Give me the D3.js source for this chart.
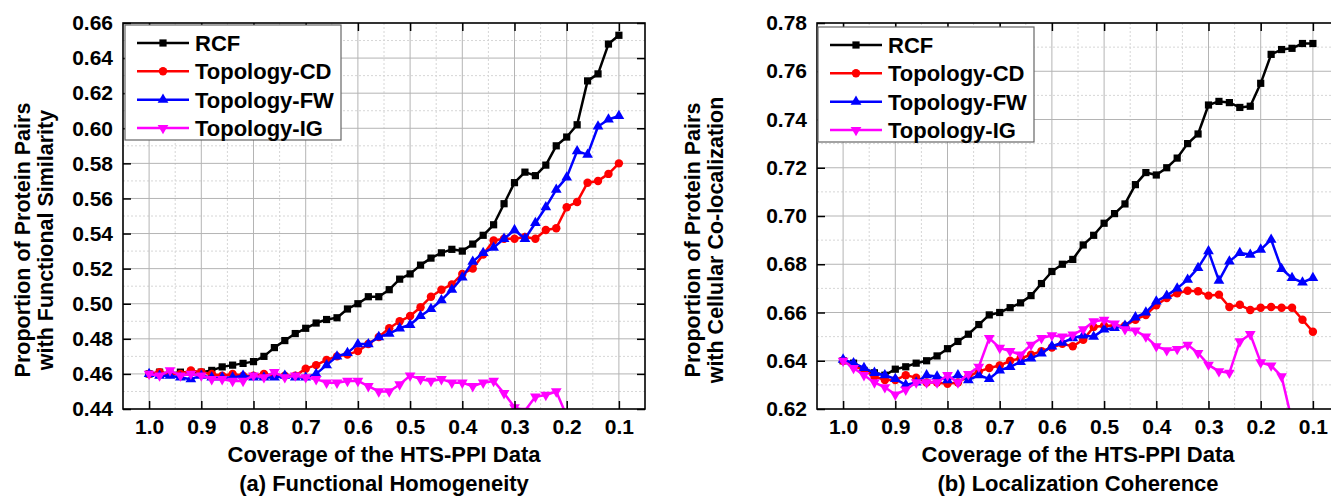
<!DOCTYPE html>
<html>
<head>
<meta charset="utf-8">
<script src="https://cdn.jsdelivr.net/npm/d3@7"></script>
<style>
  body { margin: 0; background: #fff; }
  text { font-family: "Liberation Sans", Arial, sans-serif; font-weight: bold; }
</style>
</head>
<body>
<script>
// coverage of the HTS-PPI data (x values, shared by both panels)
var coverage = [1.00, 0.98, 0.96, 0.94, 0.92, 0.90, 0.88, 0.86, 0.84, 0.82,
                0.80, 0.78, 0.76, 0.74, 0.72, 0.70, 0.68, 0.66, 0.64, 0.62,
                0.60, 0.58, 0.56, 0.54, 0.52, 0.50, 0.48, 0.46, 0.44, 0.42,
                0.40, 0.38, 0.36, 0.34, 0.32, 0.30, 0.28, 0.26, 0.24, 0.22,
                0.20, 0.18, 0.16, 0.14, 0.12, 0.10];

var methods = ["RCF", "Topology-CD", "Topology-FW", "Topology-IG"];

// (a) functional homogeneity
var fhRCF = [0.460, 0.461, 0.460, 0.461, 0.461, 0.461, 0.462, 0.464, 0.465, 0.466,
             0.467, 0.470, 0.475, 0.479, 0.483, 0.486, 0.489, 0.491, 0.492, 0.497,
             0.500, 0.504, 0.504, 0.508, 0.514, 0.517, 0.522, 0.526, 0.529, 0.531,
             0.530, 0.534, 0.539, 0.545, 0.557, 0.569, 0.575, 0.573, 0.579, 0.590,
             0.595, 0.602, 0.627, 0.631, 0.648, 0.653];
var fhCD  = [0.460, 0.461, 0.460, 0.460, 0.462, 0.461, 0.460, 0.459, 0.460, 0.459,
             0.459, 0.460, 0.459, 0.459, 0.459, 0.463, 0.465, 0.468, 0.470, 0.471,
             0.473, 0.477, 0.481, 0.486, 0.490, 0.493, 0.498, 0.504, 0.508, 0.511,
             0.517, 0.520, 0.528, 0.536, 0.537, 0.537, 0.538, 0.537, 0.542, 0.543,
             0.555, 0.558, 0.569, 0.570, 0.574, 0.580];
var fhFW  = [0.460, 0.459, 0.459, 0.458, 0.457, 0.459, 0.458, 0.458, 0.458, 0.459,
             0.458, 0.458, 0.458, 0.459, 0.458, 0.458, 0.460, 0.465, 0.470, 0.472,
             0.477, 0.477, 0.481, 0.483, 0.486, 0.488, 0.493, 0.497, 0.502, 0.508,
             0.515, 0.524, 0.529, 0.532, 0.537, 0.542, 0.537, 0.546, 0.555, 0.565,
             0.572, 0.587, 0.585, 0.601, 0.605, 0.607];
var fhIG  = [0.460, 0.459, 0.462, 0.459, 0.460, 0.459, 0.457, 0.457, 0.456, 0.456,
             0.459, 0.458, 0.461, 0.458, 0.459, 0.458, 0.457, 0.455, 0.455, 0.456,
             0.456, 0.453, 0.450, 0.450, 0.454, 0.459, 0.457, 0.456, 0.457, 0.455,
             0.455, 0.453, 0.455, 0.456, 0.449, 0.441, 0.439, 0.447, 0.448, 0.450,
             0.436];

// (b) localization coherence
var lcRCF = [0.640, 0.639, 0.636, 0.635, 0.634, 0.6365, 0.6375, 0.639, 0.640, 0.642,
             0.645, 0.648, 0.651, 0.655, 0.659, 0.660, 0.662, 0.664, 0.667, 0.672,
             0.677, 0.680, 0.682, 0.688, 0.692, 0.697, 0.701, 0.705, 0.713, 0.718,
             0.717, 0.720, 0.724, 0.730, 0.734, 0.746, 0.7475, 0.747, 0.745, 0.7455,
             0.755, 0.767, 0.769, 0.7695, 0.7715, 0.7715];
var lcCD  = [0.640, 0.638, 0.636, 0.6335, 0.632, 0.632, 0.634, 0.633, 0.631, 0.631,
             0.6305, 0.631, 0.6335, 0.6355, 0.637, 0.638, 0.640, 0.641, 0.6425, 0.644,
             0.6455, 0.647, 0.646, 0.6487, 0.654, 0.6545, 0.6545, 0.6545, 0.657, 0.659,
             0.663, 0.666, 0.668, 0.669, 0.6688, 0.667, 0.6674, 0.6623, 0.6632, 0.661,
             0.662, 0.6623, 0.662, 0.662, 0.657, 0.652];
var lcFW  = [0.6405, 0.639, 0.637, 0.635, 0.634, 0.6325, 0.630, 0.631, 0.634, 0.6335,
             0.632, 0.634, 0.632, 0.634, 0.6325, 0.636, 0.6375, 0.6395, 0.641, 0.643,
             0.646, 0.6475, 0.6494, 0.6505, 0.650, 0.653, 0.6536, 0.6545, 0.658, 0.660,
             0.6646, 0.667, 0.670, 0.6736, 0.6785, 0.6854, 0.6732, 0.6812, 0.6847, 0.684,
             0.6861, 0.6902, 0.6781, 0.6743, 0.6725, 0.6743];
var lcIG  = [0.640, 0.637, 0.634, 0.631, 0.629, 0.626, 0.628, 0.631, 0.631, 0.631,
             0.634, 0.631, 0.6345, 0.6375, 0.6494, 0.6453, 0.644, 0.6425, 0.6466, 0.6494,
             0.6505, 0.650, 0.6508, 0.653, 0.6563, 0.657, 0.6554, 0.653, 0.6525, 0.650,
             0.646, 0.6443, 0.6448, 0.6466, 0.6432, 0.6383, 0.6356, 0.635, 0.648, 0.651,
             0.6393, 0.638, 0.6335, 0.615];

// tick labels
var xTicks = [1.0, 0.9, 0.8, 0.7, 0.6, 0.5, 0.4, 0.3, 0.2, 0.1];
var fhTicks = [0.44, 0.46, 0.48, 0.50, 0.52, 0.54, 0.56, 0.58, 0.60, 0.62, 0.64, 0.66];
var lcTicks = [0.62, 0.64, 0.66, 0.68, 0.70, 0.72, 0.74, 0.76, 0.78];

var colors = ["#000000", "#ff0000", "#0000ff", "#ff00ff"];
var symbols = [
  { type: d3.symbolSquare, size: 52, rot: 0 },
  { type: d3.symbolCircle, size: 56, rot: 0 },
  { type: d3.symbolTriangle, size: 50, rot: 0 },
  { type: d3.symbolTriangle, size: 50, rot: 180 }
];

var W = 1331, H = 498;
var top_ = 23, bottom = 409, plotW = 522;

var svg = d3.select("body").append("svg")
            .attr("width", W)
            .attr("height", H);

function mids(arr) {
  return d3.pairs(arr).map(function (p) { return (p[0] + p[1]) / 2; });
}

function drawPanel(p) {
  var x = d3.scaleLinear()
            .domain([1.05, 0.05])
            .range([p.left, p.left + plotW]);
  var y = d3.scaleLinear()
            .domain([p.yTicks[0], p.yTicks[p.yTicks.length - 1]])
            .range([bottom, top_]);

  var g = svg.append("g");

  g.append("clipPath").attr("id", p.id + "-clip")
    .append("rect")
    .attr("x", x.range()[0]).attr("y", top_)
    .attr("width", plotW).attr("height", bottom - top_);

  // grid: dotted minor, solid major
  g.selectAll(".vminor").data(mids(xTicks)).enter().append("line")
    .attr("x1", d => x(d)).attr("x2", d => x(d))
    .attr("y1", top_).attr("y2", bottom)
    .attr("stroke", "#d6d6d6").attr("stroke-dasharray", "2,2");
  g.selectAll(".hminor").data(mids(p.yTicks)).enter().append("line")
    .attr("x1", x.range()[0]).attr("x2", x.range()[1])
    .attr("y1", d => y(d)).attr("y2", d => y(d))
    .attr("stroke", "#d6d6d6").attr("stroke-dasharray", "2,2");
  g.selectAll(".vmajor").data(xTicks).enter().append("line")
    .attr("x1", d => x(d)).attr("x2", d => x(d))
    .attr("y1", top_).attr("y2", bottom)
    .attr("stroke", "#b4b4b4");
  g.selectAll(".hmajor").data(p.yTicks.slice(1, -1)).enter().append("line")
    .attr("x1", x.range()[0]).attr("x2", x.range()[1])
    .attr("y1", d => y(d)).attr("y2", d => y(d))
    .attr("stroke", "#b4b4b4");

  // series
  var plot = g.append("g").attr("clip-path", "url(#" + p.id + "-clip)");
  var line = d3.line()
               .x((d, i) => x(coverage[i]))
               .y(d => y(d));

  p.series.forEach(function (s, k) {
    plot.append("path")
      .datum(s)
      .attr("d", line)
      .attr("fill", "none")
      .attr("stroke", colors[k])
      .attr("stroke-width", 2.5)
      .attr("stroke-linejoin", "round");
    plot.selectAll(".m" + k).data(s).enter().append("path")
      .attr("transform", (d, i) => `translate(${x(coverage[i])},${y(d)}) rotate(${symbols[k].rot})`)
      .attr("d", d3.symbol().type(symbols[k].type).size(symbols[k].size))
      .attr("fill", colors[k]);
  });

  // axes, ticks pointing inward
  var fmtX = d3.format(".1f"), fmtY = d3.format(".2f");
  var ax = [
    g.append("g").attr("transform", `translate(0,${bottom})`)
      .call(d3.axisBottom(x).tickValues(xTicks).tickSizeInner(-8).tickSizeOuter(0)
              .tickPadding(10).tickFormat(fmtX)),
    g.append("g").attr("transform", `translate(0,${top_})`)
      .call(d3.axisTop(x).tickValues(xTicks).tickSizeInner(-8).tickSizeOuter(0).tickFormat("")),
    g.append("g").attr("transform", `translate(${x.range()[0]},0)`)
      .call(d3.axisLeft(y).tickValues(p.yTicks).tickSizeInner(-8).tickSizeOuter(0)
              .tickPadding(10).tickFormat(fmtY)),
    g.append("g").attr("transform", `translate(${x.range()[1]},0)`)
      .call(d3.axisRight(y).tickValues(p.yTicks).tickSizeInner(-8).tickSizeOuter(0).tickFormat(""))
  ];
  ax.forEach(function (a) {
    a.attr("font-family", null).attr("font-size", null);
    a.select(".domain").remove();
    a.selectAll("line").attr("stroke", "#000").attr("stroke-width", 1.5);
    a.selectAll("text").attr("font-size", "21px").attr("fill", "#000");
  });

  g.append("rect")
    .attr("x", x.range()[0]).attr("y", top_)
    .attr("width", plotW).attr("height", bottom - top_)
    .attr("fill", "none").attr("stroke", "#000").attr("stroke-width", 1.6);

  // titles
  var cx = (x.range()[0] + x.range()[1]) / 2;
  g.append("text").attr("x", cx).attr("y", 462)
    .attr("text-anchor", "middle").attr("font-size", "22px")
    .text("Coverage of the HTS-PPI Data");
  g.append("text").attr("x", cx).attr("y", 491)
    .attr("text-anchor", "middle").attr("font-size", "22px")
    .text(p.caption);
  p.yTitle.forEach(function (t, i) {
    g.append("text")
      .attr("transform", `translate(${p.yTitleX[i]},240) rotate(-90)`)
      .attr("text-anchor", "middle").attr("font-size", "21.5px")
      .text(t);
  });

  // legend
  var lg = g.append("g").attr("transform", `translate(${p.legend[0]},${p.legend[1]})`);
  lg.append("rect")
    .attr("width", 216).attr("height", 115)
    .attr("fill", "#fff").attr("stroke", "#666").attr("stroke-width", 1.2);
  var rowY = d3.scalePoint().domain(methods).range([18, 103]);
  methods.forEach(function (m, k) {
    var ry = rowY(m);
    lg.append("line").attr("x1", 12).attr("x2", 64).attr("y1", ry).attr("y2", ry)
      .attr("stroke", colors[k]).attr("stroke-width", 2.5);
    lg.append("path")
      .attr("transform", `translate(38,${ry}) rotate(${symbols[k].rot})`)
      .attr("d", d3.symbol().type(symbols[k].type).size(symbols[k].size))
      .attr("fill", colors[k]);
    lg.append("text").attr("x", 70).attr("y", ry + 8)
      .attr("font-size", "22px").text(m);
  });
}

drawPanel({
  id: "fh", left: 123, yTicks: fhTicks,
  series: [fhRCF, fhCD, fhFW, fhIG],
  caption: "(a) Functional Homogeneity",
  yTitle: ["Proportion of Protein Pairs", "with Functional Similarity"],
  yTitleX: [30, 53],
  legend: [125, 25]
});

drawPanel({
  id: "lc", left: 817, yTicks: lcTicks,
  series: [lcRCF, lcCD, lcFW, lcIG],
  caption: "(b) Localization Coherence",
  yTitle: ["Proportion of Protein Pairs", "with Cellular Co-localization"],
  yTitleX: [700, 723],
  legend: [818, 27]
});
</script>
</body>
</html>
